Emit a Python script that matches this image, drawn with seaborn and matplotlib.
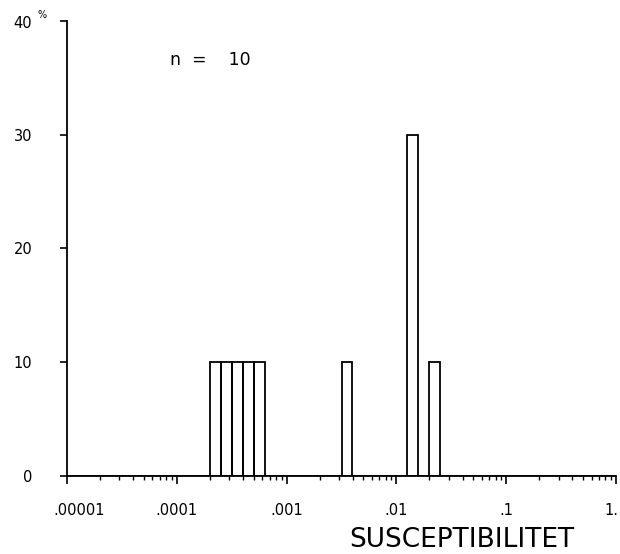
import numpy as np
import seaborn as sns
import matplotlib.pyplot as plt
import matplotlib.ticker as mtick
from matplotlib.transforms import ScaledTranslation

# ten samples, magnetic susceptibility (SI)
susceptibility = [0.00022, 0.00028, 0.00035, 0.00045, 0.00056,
                  0.0035, 0.0141, 0.0141, 0.0141, 0.0224]
x_ticks = [1e-5, 1e-4, 1e-3, 1e-2, 1e-1, 1]
x_labels = ['.00001', '.0001', '.001', '.01', '.1', '1.']
y_ticks = [0, 10, 20, 30, 40]
y_labels = ['0', '10', '20', '30', '40']

sns.set_style('ticks')
plt.rcParams['font.family'] = ['DejaVu Sans']
plt.rcParams['text.color'] = 'black'
plt.rcParams['xtick.labelcolor'] = 'black'
plt.rcParams['ytick.labelcolor'] = 'black'

fig = plt.figure(figsize=(6.2, 5.54), dpi=100)
ax = fig.add_axes([67 / 620, 78.5 / 554, 549 / 620, 454 / 554])

sns.histplot(x=susceptibility, log_scale=True, binwidth=0.1, binrange=(-5, 0),
             stat='percent', fill=False, color='black', linewidth=1.3, ax=ax)

ax.set_xlim(1e-5, 1)
ax.set_ylim(0, 40)
sns.despine(ax=ax)
for s in ['left', 'bottom']:
    ax.spines[s].set_linewidth(1.3)
    ax.spines[s].set_color('black')

ax.set_xticks(x_ticks)
ax.set_xticklabels(x_labels)
ax.xaxis.set_minor_locator(mtick.LogLocator(base=10, subs=np.arange(2, 10)))
ax.xaxis.set_minor_formatter(mtick.NullFormatter())
ax.set_yticks(y_ticks)
ax.set_yticklabels(y_labels)

ax.tick_params(axis='x', which='major', length=6, width=1.2, pad=14, labelsize=10.5,
               color='black', labelcolor='black')
ax.tick_params(axis='x', which='minor', length=3, width=1.0, color='black')
ax.tick_params(axis='y', which='major', length=5, width=1.2, pad=20, labelsize=10.5,
               color='black', labelcolor='black')

# first x label sits a little to the right, clear of the y axis; last one a bit left
labs = ax.get_xticklabels()
labs[0].set_transform(labs[0].get_transform() + ScaledTranslation(0.12, 0, fig.dpi_scale_trans))
labs[-1].set_transform(labs[-1].get_transform() + ScaledTranslation(-0.05, 0, fig.dpi_scale_trans))

ax.set_xlabel('')
ax.set_ylabel('')
fig.text(42 / 620, 1 - 15 / 554, '%', fontsize=7, ha='center', va='center')
fig.text(462 / 620, 1 - 540 / 554, 'SUSCEPTIBILITET', fontsize=19, ha='center', va='center')
ax.text(0.188, 0.915, 'n  =    10', transform=ax.transAxes, fontsize=12.5, ha='left', va='center')

fig.savefig('out.png', dpi=100)
